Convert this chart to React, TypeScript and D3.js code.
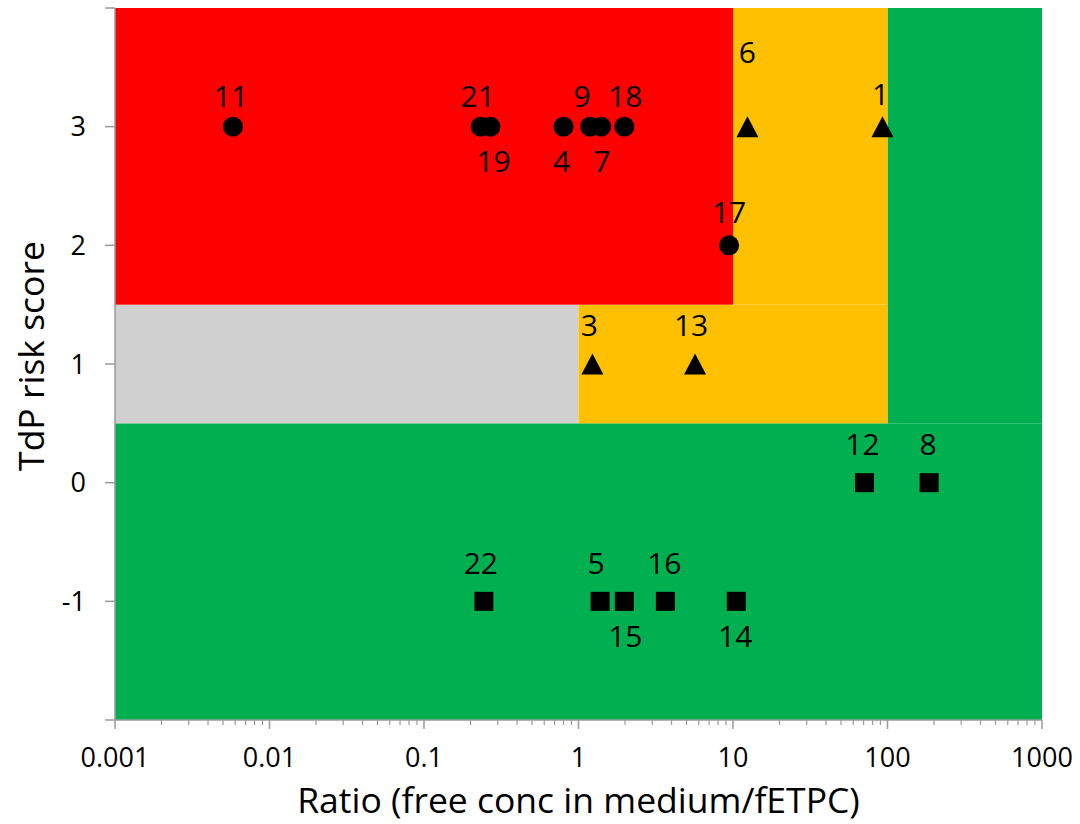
import React from "react";
import * as d3 from "d3";

// ---- Data ----
const circleIds = [11, 21, 19, 4, 9, 7, 18, 17];
const circleRatio = [0.0058, 0.233, 0.269, 0.8, 1.19, 1.4, 1.98, 9.44];
const circleScore = [3, 3, 3, 3, 3, 3, 3, 2];

const triangleIds = [6, 1, 3, 13];
const triangleRatio = [12.4, 92.8, 1.23, 5.68];
const triangleScore = [3, 3, 1, 1];

const squareIds = [12, 8, 22, 5, 15, 16, 14];
const squareRatio = [71, 186, 0.244, 1.38, 1.98, 3.65, 10.5];
const squareScore = [0, 0, -1, -1, -1, -1, -1];

const xTicks = [0.001, 0.01, 0.1, 1, 10, 100, 1000];
const xTickLabels = ["0.001", "0.01", "0.1", "1", "10", "100", "1000"];
const yTicks = [-2, -1, 0, 1, 2, 3, 4];
const yTickLabels = ["", "-1", "0", "1", "2", "3", ""];

// background risk zones (data units)
const zoneKind = ["low", "low", "uncertain", "intermediate", "intermediate", "high"];
const zoneX0 = [0.001, 100, 0.001, 1, 10, 0.001];
const zoneX1 = [1000, 1000, 1, 100, 100, 10];
const zoneY0 = [-2, 0.5, 0.5, 0.5, 1.5, 1.5];
const zoneY1 = [0.5, 4, 1.5, 1.5, 4, 4];

const xTitle = "Ratio (free conc in medium/fETPC)";
const yTitle = "TdP risk score";

// ---- Styles ----
const zoneColor: Record<string, string> = {
  low: "#00B050",
  uncertain: "#D0D0D0",
  intermediate: "#FFC000",
  high: "#FF0000",
};
const labelOffset: Record<number, [number, number]> = {
  11: [-2, -20], 21: [-3, -20], 19: [3, 45], 4: [-2, 45], 9: [-8, -20], 7: [1, 45], 18: [1, -20], 17: [0, -22],
  6: [0, -64], 1: [-2, -22], 3: [-3, -28], 13: [-4, -28],
  12: [-2, -28], 8: [-1, -28], 22: [-3, -27], 5: [-4, -27], 16: [-1, -27], 15: [1, 46], 14: [-1, 46],
};
const FONT = "'Open Sans', 'Noto Sans', sans-serif";
const AXIS = "#9a9a9a";

export default function App() {
  const W = 1080, H = 824;
  const x = d3.scaleLog().domain([0.001, 1000]).range([115, 1042]);
  const y = d3.scaleLinear().domain([-2, 4]).range([720, 8]);

  const minorTicks: number[] = [];
  for (let e = -3; e < 3; e++) {
    for (let m = 2; m <= 9; m++) minorTicks.push(m * Math.pow(10, e));
  }

  const [x0, x1] = x.range();
  const [yb, yt] = y.range();

  const labels: { id: number; cx: number; cy: number }[] = [];
  circleIds.forEach((id, i) => labels.push({ id, cx: x(circleRatio[i]), cy: y(circleScore[i]) }));
  triangleIds.forEach((id, i) => labels.push({ id, cx: x(triangleRatio[i]), cy: y(triangleScore[i]) }));
  squareIds.forEach((id, i) => labels.push({ id, cx: x(squareRatio[i]), cy: y(squareScore[i]) }));

  const triW = 22, triH = 21, sq = 19, r = 10;

  return (
    <svg width={W} height={H} style={{ position: "absolute", left: 0, top: 0, display: "block" }} fontFamily={FONT}>
      <rect x={0} y={0} width={W} height={H} fill="#ffffff" />
      {zoneKind.map((k, i) => (
        <rect
          key={"z" + i}
          x={x(zoneX0[i])}
          y={y(zoneY1[i])}
          width={x(zoneX1[i]) - x(zoneX0[i])}
          height={y(zoneY0[i]) - y(zoneY1[i])}
          fill={zoneColor[k]}
        />
      ))}

      {/* axes */}
      <line x1={x0} x2={x0} y1={yt} y2={yb} stroke={AXIS} strokeWidth={1.5} />
      <line x1={x0} x2={x1} y1={yb} y2={yb} stroke={AXIS} strokeWidth={1.5} />
      {yTicks.map((t, i) => (
        <g key={"yt" + i}>
          <line x1={x0 - 10} x2={x0} y1={y(t)} y2={y(t)} stroke={AXIS} strokeWidth={1.5} />
          <text x={86} y={y(t)} dy="0.36em" textAnchor="end" fontSize={27} fill="#000">
            {yTickLabels[i]}
          </text>
        </g>
      ))}
      {xTicks.map((t, i) => (
        <g key={"xt" + i}>
          <line x1={x(t)} x2={x(t)} y1={yb} y2={yb + 9} stroke={AXIS} strokeWidth={1.5} />
          <text x={x(t)} y={767} textAnchor="middle" fontSize={27} fill="#000">
            {xTickLabels[i]}
          </text>
        </g>
      ))}
      {minorTicks.map((t, i) => (
        <line key={"mt" + i} x1={x(t)} x2={x(t)} y1={yb} y2={yb + 5} stroke={AXIS} strokeWidth={1.2} />
      ))}

      {/* titles */}
      <text x={(x0 + x1) / 2} y={813} textAnchor="middle" fontSize={35.5} fill="#000">
        {xTitle}
      </text>
      <text
        transform={`translate(44, ${(yt + yb) / 2 - 8}) rotate(-90)`}
        textAnchor="middle"
        fontSize={35.5}
        fill="#000"
      >
        {yTitle}
      </text>

      {/* markers */}
      {circleIds.map((id, i) => (
        <circle key={"c" + id} cx={x(circleRatio[i])} cy={y(circleScore[i])} r={r} fill="#000" />
      ))}
      {triangleIds.map((id, i) => {
        const cx = x(triangleRatio[i]);
        const cy = y(triangleScore[i]);
        const p = d3.path();
        p.moveTo(cx, cy - triH / 2);
        p.lineTo(cx + triW / 2, cy + triH / 2);
        p.lineTo(cx - triW / 2, cy + triH / 2);
        p.closePath();
        return <path key={"t" + id} d={p.toString()} fill="#000" />;
      })}
      {squareIds.map((id, i) => (
        <rect
          key={"s" + id}
          x={x(squareRatio[i]) - sq / 2}
          y={y(squareScore[i]) - sq / 2}
          width={sq}
          height={sq}
          fill="#000"
        />
      ))}

      {/* data labels */}
      {labels.map((l) => {
        const off = labelOffset[l.id] || [0, -22];
        return (
          <text key={"l" + l.id} x={l.cx + off[0]} y={l.cy + off[1]} textAnchor="middle" fontSize={30} fill="#000">
            {String(l.id)}
          </text>
        );
      })}
    </svg>
  );
}
